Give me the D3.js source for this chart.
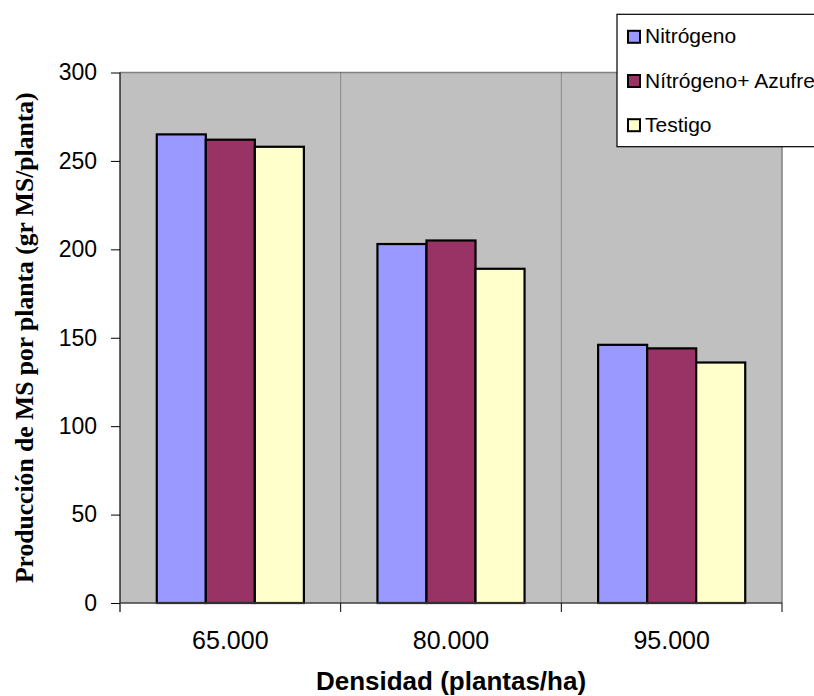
<!DOCTYPE html>
<html>
<head>
<meta charset="utf-8">
<script src="https://cdn.jsdelivr.net/npm/d3@7/dist/d3.min.js"></script>
<style>
  html, body { margin: 0; padding: 0; background: #ffffff; }
  svg { display: block; }
</style>
</head>
<body>
<svg id="chart" width="814" height="696"></svg>
<script>
// Densities (plants/ha) on the x axis
const categories = ["65.000", "80.000", "95.000"];
// Treatments
const series = ["Nitrógeno", "Nítrógeno+ Azufre", "Testigo"];
// Dry matter per plant (g MS/planta), one array per treatment
const nitrogeno = [265, 203, 146];
const nitrogenoAzufre = [262, 205, 144];
const testigo = [258, 189, 136];
const yTicks = [0, 50, 100, 150, 200, 250, 300];

const colors = ["#9999FF", "#993366", "#FFFFCC"];
const values = [nitrogeno, nitrogenoAzufre, testigo];

const svg = d3.select("#chart");
const plot = { left: 120, right: 782, top: 72.5, bottom: 603 };

const x0 = d3.scaleBand().domain(categories).range([plot.left, plot.right]).padding(0);
const x1 = d3.scaleBand().domain(series).range([0, x0.bandwidth()]).paddingInner(0).paddingOuter(0.75);
const y = d3.scaleLinear().domain([0, 300]).range([plot.bottom, plot.top]);

// plot background
svg.append("rect")
  .attr("x", plot.left).attr("y", plot.top)
  .attr("width", plot.right - plot.left).attr("height", plot.bottom - plot.top)
  .attr("fill", "#C0C0C0");

// top and right frame
svg.append("path")
  .attr("d", `M${plot.left},${plot.top}H${plot.right}V${plot.bottom}`)
  .attr("fill", "none").attr("stroke", "#808080").attr("stroke-width", 1.5);

// vertical separators between categories
svg.append("g").selectAll("line")
  .data(categories.slice(1))
  .join("line")
  .attr("x1", d => x0(d)).attr("x2", d => x0(d))
  .attr("y1", plot.top).attr("y2", plot.bottom)
  .attr("stroke", "#555555").attr("stroke-width", 1)
  .attr("stroke-dasharray", "1,1");

// bars
const groups = svg.append("g").selectAll("g")
  .data(categories)
  .join("g")
  .attr("transform", d => `translate(${x0(d)},0)`);

groups.selectAll("rect")
  .data((c, ci) => series.map((s, si) => ({ s, si, v: values[si][ci] })))
  .join("rect")
  .attr("x", d => x1(d.s))
  .attr("y", d => y(d.v))
  .attr("width", x1.bandwidth())
  .attr("height", d => y(0) - y(d.v))
  .attr("fill", d => colors[d.si])
  .attr("stroke", "#000").attr("stroke-width", 2.2);

// y axis
const yAxis = d3.axisLeft(y).tickValues(yTicks).tickSize(9).tickPadding(14).tickSizeOuter(0);
const gy = svg.append("g").attr("transform", `translate(${plot.left},0)`).call(yAxis);
gy.select(".domain").remove();
gy.selectAll(".tick line").attr("stroke", "#000");
gy.selectAll(".tick text")
  .attr("font-family", "Liberation Sans, Arial, sans-serif")
  .attr("font-size", 23).attr("fill", "#000");
svg.append("line")
  .attr("x1", plot.left).attr("x2", plot.left)
  .attr("y1", plot.top).attr("y2", plot.bottom + 9)
  .attr("stroke", "#000").attr("stroke-width", 1.2);

// x axis with ticks at category boundaries
svg.append("line")
  .attr("x1", plot.left).attr("x2", plot.right)
  .attr("y1", plot.bottom).attr("y2", plot.bottom)
  .attr("stroke", "#404040").attr("stroke-width", 1.5);
const bounds = categories.map(c => x0(c)).concat([x0(categories[categories.length - 1]) + x0.bandwidth()]);
svg.append("g").selectAll("line")
  .data(bounds.slice(1))
  .join("line")
  .attr("x1", d => d).attr("x2", d => d)
  .attr("y1", plot.bottom).attr("y2", plot.bottom + 9)
  .attr("stroke", "#000").attr("stroke-width", 1);
svg.append("g").selectAll("text")
  .data(categories)
  .join("text")
  .attr("x", d => x0(d) + x0.bandwidth() / 2)
  .attr("y", 649)
  .attr("text-anchor", "middle")
  .attr("font-family", "Liberation Sans, Arial, sans-serif")
  .attr("font-size", 25).attr("fill", "#000")
  .text(d => d);

// axis titles
svg.append("text")
  .attr("x", (plot.left + plot.right) / 2).attr("y", 689.5)
  .attr("text-anchor", "middle")
  .attr("font-family", "Liberation Sans, Arial, sans-serif")
  .attr("font-weight", "bold").attr("font-size", 26)
  .text("Densidad (plantas/ha)");

svg.append("text")
  .attr("transform", `translate(33,${(plot.top + plot.bottom) / 2}) rotate(-90)`)
  .attr("text-anchor", "middle")
  .attr("font-family", "Liberation Serif, Times New Roman, serif")
  .attr("font-weight", "bold").attr("font-size", 25.6)
  .text("Producción de MS por planta (gr MS/planta)");

// legend
const legend = svg.append("g");
legend.append("rect")
  .attr("x", 617).attr("y", 14.3).attr("width", 220).attr("height", 132.4)
  .attr("fill", "#fff").attr("stroke", "#000").attr("stroke-width", 1.2);
const items = legend.selectAll("g.item")
  .data(series)
  .join("g").attr("class", "item")
  .attr("transform", (d, i) => `translate(0,${43.3 + i * 44.2})`);
items.append("rect")
  .attr("x", 628).attr("y", -12.5).attr("width", 12).attr("height", 12)
  .attr("fill", (d, i) => colors[i]).attr("stroke", "#000").attr("stroke-width", 2);
items.append("text")
  .attr("x", 645).attr("y", 0)
  .attr("font-family", "Liberation Sans, Arial, sans-serif")
  .attr("font-size", 21).attr("fill", "#000")
  .text(d => d);
</script>
</body>
</html>
